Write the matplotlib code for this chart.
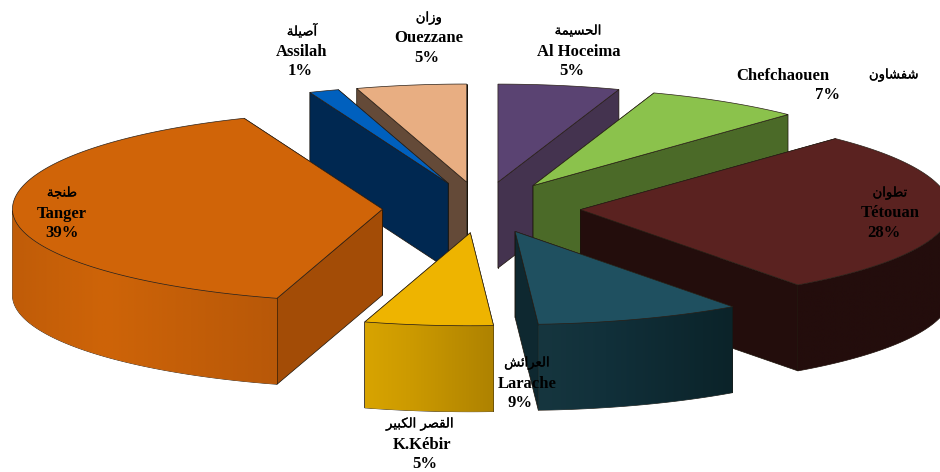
import matplotlib
matplotlib.use("Agg")
import matplotlib.pyplot as plt
import matplotlib.patheffects as pe
from matplotlib.patches import Polygon
from matplotlib.colors import to_rgb
import numpy as np

# clockwise from 12 o'clock
names_fr = ['Al Hoceima', 'Chefchaouen', 'Tétouan', 'Larache', 'K.Kébir', 'Tanger', 'Assilah', 'Ouezzane']
names_ar = ['الحسيمة', 'شفشاون', 'تطوان', 'العرائش', 'القصر الكبير', 'طنجة', 'آصيلة', 'وزان']
values = [5, 7, 28, 9, 5, 39, 1, 5]
shares = [5.3, 6.8, 27.9, 9.0, 5.6, 39.3, 1.3, 4.8]

top_colors = ['#5A4372', '#8BC24C', '#5A2220', '#1F5060', '#EEB400', '#D06408', '#0060BE', '#E8AE82']
wall_colors = ['#44334F', '#4B6A28', '#230D0C', '#0E2830', '#AE8200', '#A34C06', '#002851', '#644A38']
rim_left = ['#44334F', '#4B6A28', '#230D0C', '#16363F', '#D8A400', '#C05C08', '#002851', '#644A38']
rim_mid = ['#44334F', '#4B6A28', '#230D0C', '#11303A', '#CC9A00', '#CE6408', '#002851', '#644A38']
rim_right = ['#44334F', '#4B6A28', '#230D0C', '#0B2329', '#AE8200', '#B85808', '#002851', '#644A38']

# label line centres in pixels: arabic, french, percent
label_pos = {
    'Al Hoceima': [(578, 31), (579, 52), (572, 71)],
    'Chefchaouen': [(894, 75), (783, 76), (827, 95)],
    'Tétouan': [(890, 193), (890, 213), (884, 233)],
    'Larache': [(527, 363), (527, 384), (520, 403)],
    'K.Kébir': [(420, 424), (422, 445), (425, 464)],
    'Tanger': [(62, 193), (62, 214), (62, 233)],
    'Assilah': [(302, 31), (302, 52), (300, 71)],
    'Ouezzane': [(429, 18), (429, 38), (427, 58)],
}

CX, CY = 481.5, 208
RX = 370
RY_BACK, RY_FRONT = 98, 93  # perspective, near half looks flatter
DEPTH = 86
EXPLODE = 0.268

# presentation form B start, and whether the letter joins the next one
ARABIC = {'ء': (0xFE80, 1), 'آ': (0xFE81, 2), 'ئ': (0xFE89, 4), 'ا': (0xFE8D, 2), 'ب': (0xFE8F, 4),
          'ة': (0xFE93, 2), 'ت': (0xFE95, 4), 'ج': (0xFE9D, 4), 'ح': (0xFEA1, 4), 'ر': (0xFEAD, 2),
          'ز': (0xFEAF, 2), 'س': (0xFEB1, 4), 'ش': (0xFEB5, 4), 'ص': (0xFEB9, 4), 'ط': (0xFEC1, 4),
          'ع': (0xFEC9, 4), 'ف': (0xFED1, 4), 'ق': (0xFED5, 4), 'ك': (0xFED9, 4), 'ل': (0xFEDD, 4),
          'م': (0xFEE1, 4), 'ن': (0xFEE5, 4), 'و': (0xFEED, 2), 'ي': (0xFEF1, 4)}


def shape(word):
    # matplotlib does no arabic shaping, so pick the joined forms by hand
    out = []
    for i, c in enumerate(word):
        if c not in ARABIC:
            out.append(c)
            continue
        base, forms = ARABIC[c]
        prev = word[i - 1] if i > 0 else ' '
        nxt = word[i + 1] if i + 1 < len(word) else ' '
        from_prev = prev in ARABIC and ARABIC[prev][1] == 4
        to_next = nxt in ARABIC and forms == 4
        if from_prev and to_next:
            out.append(chr(base + 3))
        elif to_next:
            out.append(chr(base + 2))
        elif from_prev:
            out.append(chr(base + 1))
        else:
            out.append(chr(base))
    return ''.join(reversed(out))


def rim_gradient(i, n=200):
    a, b, c = [np.array(to_rgb(k[i])) for k in (rim_left, rim_mid, rim_right)]
    f = np.linspace(0, 1, n)[:, None]
    grad = np.where(f < 0.35, a + (b - a) * f / 0.35, b + (c - b) * (f - 0.35) / 0.65)
    return grad[None, :, :]


def y_offset(t, r=1.0):
    c = np.cos(t)
    return -r * np.where(c >= 0, RY_BACK, RY_FRONT) * c


fig = plt.figure(figsize=(9.4, 4.72), dpi=100)
ax = fig.add_axes([0, 0, 1, 1])
ax.axis('off')

angles = np.cumsum([0] + shares) / sum(shares) * 2 * np.pi
slices = []
for i in range(len(shares)):
    t0, t1 = angles[i], angles[i + 1]
    mid = (t0 + t1) / 2
    ox = CX + EXPLODE * RX * np.sin(mid)
    oy = CY + y_offset(mid, EXPLODE)
    slices.append((i, t0, t1, ox, oy))

draw_order = [7, 6, 0, 1, 2, 5, 4, 3]
for z, i in enumerate(draw_order):
    _, t0, t1, ox, oy = slices[i]
    ts = np.linspace(t0, t1, 120)
    xs = ox + RX * np.sin(ts)
    ys = oy + y_offset(ts)
    base_z = 2 + z

    # radial walls, lower edge drawn last
    ends = sorted([(ys[0], xs[0]), (ys[-1], xs[-1])])
    for ey, ex in ends:
        ax.fill([ox, ex, ex, ox], [oy, ey, ey + DEPTH, oy + DEPTH], facecolor=wall_colors[i],
                edgecolor='#1a1208', linewidth=0.5, zorder=base_z)

    # outer rim, only where it faces the viewer
    front = (ts >= np.pi / 2) & (ts <= 3 * np.pi / 2)
    if front.sum() > 1:
        fx, fy = xs[front], ys[front]
        outline = np.c_[np.r_[fx, fx[::-1]], np.r_[fy, fy[::-1] + DEPTH]]
        rim = Polygon(outline, closed=True, facecolor='none', edgecolor='#1a1208', linewidth=0.5,
                      zorder=base_z)
        ax.add_patch(rim)
        im = ax.imshow(rim_gradient(i), extent=(fx.min(), fx.max(), fy.max() + DEPTH, fy.min()),
                       aspect='auto', interpolation='bilinear', zorder=base_z)
        im.set_clip_path(rim)

    ax.fill(np.r_[ox, xs], np.r_[oy, ys], facecolor=top_colors[i], edgecolor='#2a2018',
            linewidth=0.5, zorder=base_z)

ax.set_xlim(0, 940)
ax.set_ylim(472, 0)

serif = ['Liberation Serif', 'DejaVu Sans']
thicker = [pe.withStroke(linewidth=0.2, foreground='black')]
for i, name in enumerate(names_fr):
    pos = label_pos[name]
    ax.text(*pos[0], shape(names_ar[i]), family=['DejaVu Sans'], fontsize=9.5, color='black',
            ha='center', va='center', zorder=30, path_effects=thicker)
    ax.text(*pos[1], name, family=serif, weight='bold', fontsize=12, color='black',
            ha='center', va='center', zorder=30)
    ax.text(*pos[2], f'{values[i]}%', family=serif, weight='bold', fontsize=12, color='black',
            ha='center', va='center', zorder=30)

fig.savefig('out.png', dpi=100, facecolor='white')
